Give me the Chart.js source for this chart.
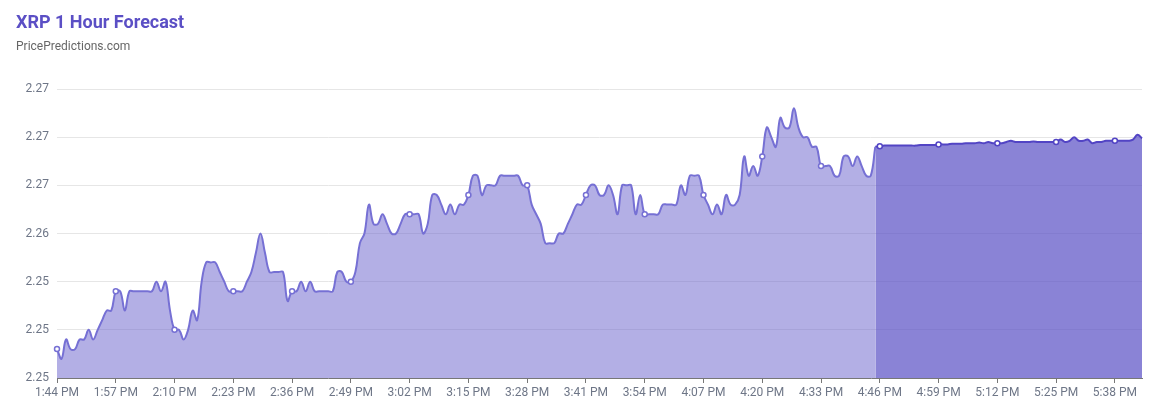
<!DOCTYPE html>
<html>
<head>
<meta charset="utf-8">
<script src="https://cdn.jsdelivr.net/npm/chart.js@4"></script>
<style>
  body { margin: 0; background: #fff; font-family: Roboto, sans-serif; }
  #wrap { position: relative; width: 1156px; height: 410px; }
  #title { position: absolute; left: 16px; top: 11px; font-size: 18px; line-height: 21px; font-weight: bold; color: #5b4fc5; }
  #sub { position: absolute; left: 16px; top: 39px; font-size: 12px; line-height: 15px; color: #666; }
  canvas { position: absolute; left: 0; top: 0; }
</style>
</head>
<body>
<div id="wrap">
  <canvas id="chart" width="1156" height="410"></canvas>
  <div id="title">XRP 1 Hour Forecast</div>
  <div id="sub">PricePredictions.com</div>
</div>
<script>
// price history, one value a minute from 1:44 PM to 4:45 PM
const history = [
    2.2484, 2.2476, 2.2492, 2.2484, 2.2484, 2.2492, 2.2492, 2.2500, 2.2492, 2.2500,
    2.2508, 2.2516, 2.2516, 2.2532, 2.2532, 2.2516, 2.2532, 2.2532, 2.2532, 2.2532,
    2.2532, 2.2532, 2.2540, 2.2532, 2.2540, 2.2516, 2.2500, 2.2500, 2.2492, 2.2500,
    2.2516, 2.2508, 2.2540, 2.2556, 2.2556, 2.2556, 2.2548, 2.2540, 2.2532, 2.2532,
    2.2532, 2.2532, 2.2540, 2.2548, 2.2564, 2.2580, 2.2564, 2.2548, 2.2548, 2.2548,
    2.2548, 2.2524, 2.2532, 2.2532, 2.2540, 2.2532, 2.2540, 2.2532, 2.2532, 2.2532,
    2.2532, 2.2532, 2.2548, 2.2548, 2.2540, 2.2540, 2.2548, 2.2572, 2.2580, 2.2604,
    2.2588, 2.2588, 2.2596, 2.2588, 2.2580, 2.2580, 2.2588, 2.2596, 2.2596, 2.2596,
    2.2596, 2.2580, 2.2588, 2.2612, 2.2612, 2.2604, 2.2596, 2.2604, 2.2596, 2.2604,
    2.2604, 2.2612, 2.2628, 2.2628, 2.2612, 2.2620, 2.2620, 2.2620, 2.2628, 2.2628,
    2.2628, 2.2628, 2.2628, 2.2620, 2.2620, 2.2604, 2.2596, 2.2588, 2.2572, 2.2572,
    2.2572, 2.2580, 2.2580, 2.2588, 2.2596, 2.2604, 2.2604, 2.2612, 2.2620, 2.2620,
    2.2612, 2.2612, 2.2620, 2.2612, 2.2596, 2.2620, 2.2620, 2.2620, 2.2596, 2.2612,
    2.2596, 2.2596, 2.2596, 2.2596, 2.2604, 2.2604, 2.2604, 2.2604, 2.2620, 2.2612,
    2.2628, 2.2628, 2.2628, 2.2612, 2.2604, 2.2596, 2.2604, 2.2596, 2.2612, 2.2604,
    2.2604, 2.2612, 2.2644, 2.2628, 2.2636, 2.2628, 2.2644, 2.2668, 2.2660, 2.2652,
    2.2676, 2.2668, 2.2668, 2.2684, 2.2668, 2.2660, 2.2660, 2.2652, 2.2652, 2.2636,
    2.2636, 2.2636, 2.2628, 2.2628, 2.2644, 2.2644, 2.2636, 2.2644, 2.2636, 2.2628,
    2.2628, 2.2652
];

// forecast, 4:45 PM to 5:44 PM
const forecast = [
    2.2652, 2.26525, 2.2653,
    2.2653, 2.2653, 2.2653, 2.2653, 2.2653, 2.2653, 2.2653, 2.26535, 2.26535, 2.26535, 2.26535,
    2.2654,
    2.2654, 2.2654, 2.26545, 2.26545, 2.26545, 2.2655, 2.2655, 2.2655, 2.26555, 2.2655, 2.2656, 2.2655,
    2.2655,
    2.2655, 2.2656, 2.2657, 2.2656, 2.2656, 2.2656, 2.2656, 2.26565, 2.2656, 2.2656, 2.2656, 2.2656,
    2.2656,
    2.2658, 2.2656, 2.2657, 2.2660, 2.2657, 2.2657, 2.2658, 2.2655, 2.2656, 2.2656, 2.2657, 2.2657,
    2.2657,
    2.2657, 2.2657, 2.2657, 2.2658, 2.2662, 2.2659
];

const yTickLabels = ['2.25', '2.25', '2.25', '2.26', '2.27', '2.27', '2.27'];

// minute labels 1:44 PM .. 5:44 PM
const startMinute = 13 * 60 + 44;
const totalPoints = history.length + forecast.length - 1;
const labels = [];
for (let i = 0; i < totalPoints; i++) {
    const m = startMinute + i;
    let h = Math.floor(m / 60) % 12;
    if (h === 0) h = 12;
    labels.push(h + ':' + String(m % 60).padStart(2, '0') + ' PM');
}

const forecastStart = history.length - 1;
const histData = labels.map((_, i) => i < history.length ? history[i] : null);
const foreData = labels.map((_, i) => i >= forecastStart ? forecast[i - forecastStart] : null);

const markerRadius = c => c.dataIndex % 13 === 0 ? 2.5 : 0;

const ctx = document.getElementById('chart').getContext('2d');
new Chart(ctx, {
    type: 'line',
    data: {
        labels: labels,
        datasets: [
            {
                label: 'History', data: histData,
                borderColor: '#7670d4', borderWidth: 2,
                backgroundColor: 'rgba(104, 96, 204, 0.5)', fill: 'start',
                tension: 0.4, pointRadius: markerRadius,
                pointBackgroundColor: '#fff', pointBorderColor: '#7670d4', pointBorderWidth: 1.5
            },
            {
                label: 'Forecast', data: foreData,
                borderColor: '#5244c4', borderWidth: 2,
                backgroundColor: 'rgba(88, 78, 196, 0.7)', fill: 'start',
                tension: 0.4, pointRadius: markerRadius,
                pointBackgroundColor: '#fff', pointBorderColor: '#5244c4', pointBorderWidth: 1.5
            }
        ]
    },
    options: {
        responsive: false,
        devicePixelRatio: 1,
        animation: false,
        events: [],
        layout: { padding: { top: 89, left: 16, right: 14, bottom: 0 } },
        plugins: { legend: { display: false }, tooltip: { enabled: false } },
        scales: {
            x: {
                afterFit: s => { s.height = 32; },
                grid: { drawOnChartArea: false, drawTicks: true, tickLength: 5, color: '#777' },
                border: { display: true, color: '#777' },
                ticks: {
                    autoSkip: false, maxRotation: 0, padding: 3,
                    color: '#6e7687', font: { family: 'Roboto', size: 12 },
                    callback: (v, i) => i % 13 === 0 ? labels[i] : null
                }
            },
            y: {
                min: 2.246, max: 2.270,
                afterFit: s => { s.width = 41; },
                grid: { color: '#e6e6e6', drawTicks: false },
                border: { display: false },
                ticks: {
                    stepSize: 0.004, padding: 8,
                    color: '#6e7687', font: { family: 'Roboto', size: 12 },
                    callback: (v, i) => yTickLabels[i]
                }
            }
        }
    }
});
</script>
</body>
</html>
